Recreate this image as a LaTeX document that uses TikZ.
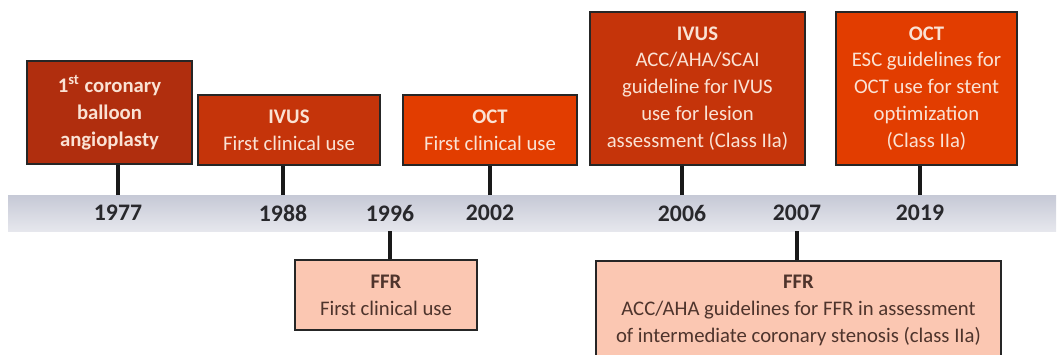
\documentclass[tikz,border=0pt]{standalone}
\usepackage{fontspec}
\setmainfont{Carlito}
\usetikzlibrary{positioning,calc}
\definecolor{darkred}{RGB}{176,46,14}
\definecolor{midred}{RGB}{197,52,10}
\definecolor{brightred}{RGB}{226,61,0}
\definecolor{salmon}{RGB}{251,199,178}
\definecolor{cream}{RGB}{250,226,212}
\definecolor{darktext}{RGB}{78,52,44}
\definecolor{yeartext}{RGB}{40,40,44}
\definecolor{bandtop}{RGB}{198,201,214}
\definecolor{bandbot}{RGB}{230,231,237}

\begin{document}
\begin{tikzpicture}[x=0.02cm,y=-0.02cm,
    event/.style={draw=black!85,line width=0.9pt,align=center,inner sep=2pt,text=cream,
      font=\fontsize{11.8}{15.3}\selectfont},
    later/.style={event,fill=salmon,text=darktext},
    stem/.style={line width=2.2pt,black!90}]
    \clip (0,0) rectangle (1059,355);
    % time band
    \shade[top color=bandtop,bottom color=bandbot] (8,195) rectangle (1056,231);
    \foreach \x/\yr in {118/1977,283/1988,390/1996,490/2002,682/2006,797/2007,920/2019}{%
       \node[text=yeartext,font=\fontsize{13.5}{15}\selectfont\bfseries] (y\yr) at (\x,213) {\yr};
       \coordinate (t\yr) at (\x,195);
       \coordinate (b\yr) at (\x,231);
    }
    % events above the band
    \node[event,fill=darkred,font=\fontsize{11.8}{15.3}\selectfont\bfseries,
          minimum width=3.3cm,minimum height=2.06cm] (balloon) at (109.5,112.5)
          {1\textsuperscript{st} coronary\\balloon\\angioplasty};
    \node[event,fill=midred,minimum width=3.64cm,minimum height=1.4cm] (ivusfirst) at (289,130)
          {\textbf{IVUS}\\First clinical use};
    \node[event,fill=brightred,minimum width=3.48cm,minimum height=1.4cm] (octfirst) at (490,130)
          {\textbf{OCT}\\First clinical use};
    \node[event,fill=midred,minimum width=4.3cm,minimum height=3.06cm] (ivusguide) at (697.5,88.5)
          {\textbf{IVUS}\\ACC/AHA/SCAI\\guideline for IVUS\\use for lesion\\assessment (Class IIa)};
    \node[event,fill=brightred,minimum width=3.62cm,minimum height=3.06cm] (octguide) at (926.5,88.5)
          {\textbf{OCT}\\ESC guidelines for\\OCT use for stent\\optimization\\(Class IIa)};
    % events below the band
    \node[later,minimum width=3.64cm,minimum height=1.4cm] (ffrfirst) at (386,295)
          {\textbf{FFR}\\First clinical use};
    \node[later,anchor=north,minimum width=8.1cm,minimum height=2.0cm] (ffrguide) at (798.5,260)
          {\textbf{FFR}\\ACC/AHA guidelines for FFR in assessment\\of intermediate coronary stenosis (class IIa)};
    % stems
    \draw[stem] (t1977) -- (t1977 |- balloon.south);
    \draw[stem] (t1988) -- (t1988 |- ivusfirst.south);
    \draw[stem] (t2002) -- (t2002 |- octfirst.south);
    \draw[stem] (t2006) -- (t2006 |- ivusguide.south);
    \draw[stem] (t2019) -- (t2019 |- octguide.south);
    \draw[stem] (b1996) -- (b1996 |- ffrfirst.north);
    \draw[stem] (b2007) -- (b2007 |- ffrguide.north);
\end{tikzpicture}
\end{document}
